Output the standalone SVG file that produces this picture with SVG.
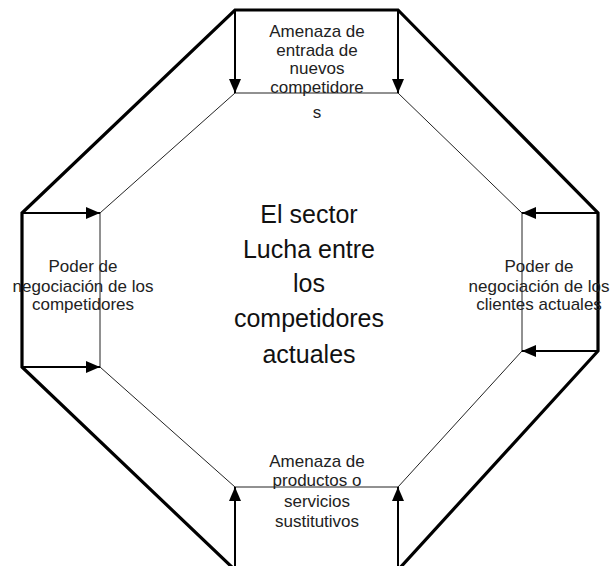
<svg xmlns="http://www.w3.org/2000/svg" width="610" height="566" viewBox="0 0 610 566">
  <defs>
    <marker id="ah" viewBox="0 0 14 12" refX="14" refY="6" markerWidth="14" markerHeight="12" markerUnits="userSpaceOnUse" orient="auto">
      <path d="M0,0 L14,6 L0,12 Z" fill="#000"/>
    </marker>
    <style>
      .outer { fill: none; stroke: #000; stroke-width: 3.2; stroke-linejoin: miter; }
      .inner { fill: none; stroke: #222; stroke-width: 1; }
      .arrow { stroke: #000; stroke-width: 2; marker-end: url(#ah); }
      .t { font-family: "Liberation Sans", Arial, sans-serif; font-size: 17px; fill: #222; text-anchor: middle; }
      .c { font-family: "Liberation Sans", Arial, sans-serif; font-size: 25px; fill: #111; text-anchor: middle; }
    </style>
  </defs>
  <rect width="610" height="566" fill="#fff"/>
  <g id="frame">
    <polygon class="outer" points="235,10 398,10 598,213 598,351 398,570 235,570 22,367 22,213"/>
    <polygon class="inner" points="235,93 398,93 522,213 522,351 398,487 235,487 100,367 100,213"/>
  </g>
  <g id="connectors">
    <line class="arrow" x1="235" y1="10" x2="235" y2="93"/>
    <line class="arrow" x1="398" y1="10" x2="398" y2="93"/>
    <line class="arrow" x1="22" y1="213" x2="100" y2="213"/>
    <line class="arrow" x1="22" y1="367" x2="100" y2="367"/>
    <line class="arrow" x1="598" y1="213" x2="522" y2="213"/>
    <line class="arrow" x1="598" y1="351" x2="522" y2="351"/>
    <line class="arrow" x1="235" y1="568" x2="235" y2="487"/>
    <line class="arrow" x1="398" y1="568" x2="398" y2="487"/>
  </g>
  <g id="node-top">
    <text class="t" x="317" y="37">Amenaza de</text>
    <text class="t" x="317" y="56">entrada de</text>
    <text class="t" x="317" y="74">nuevos</text>
    <text class="t" x="317" y="93">competidore</text>
    <text class="t" x="317" y="118">s</text>
  </g>
  <g id="node-left">
    <text class="t" x="83" y="272">Poder de</text>
    <text class="t" x="83" y="292">negociación de los</text>
    <text class="t" x="83" y="310">competidores</text>
  </g>
  <g id="node-right">
    <text class="t" x="539" y="272">Poder de</text>
    <text class="t" x="539" y="292">negociación de los</text>
    <text class="t" x="539" y="310">clientes actuales</text>
  </g>
  <g id="node-bottom">
    <text class="t" x="317" y="467">Amenaza de</text>
    <text class="t" x="317" y="486">productos o</text>
    <text class="t" x="317" y="507">servicios</text>
    <text class="t" x="317" y="527">sustitutivos</text>
  </g>
  <g id="node-center">
    <text class="c" x="309" y="223">El sector</text>
    <text class="c" x="309" y="258">Lucha entre</text>
    <text class="c" x="309" y="292">los</text>
    <text class="c" x="309" y="327">competidores</text>
    <text class="c" x="309" y="363">actuales</text>
  </g>
</svg>
